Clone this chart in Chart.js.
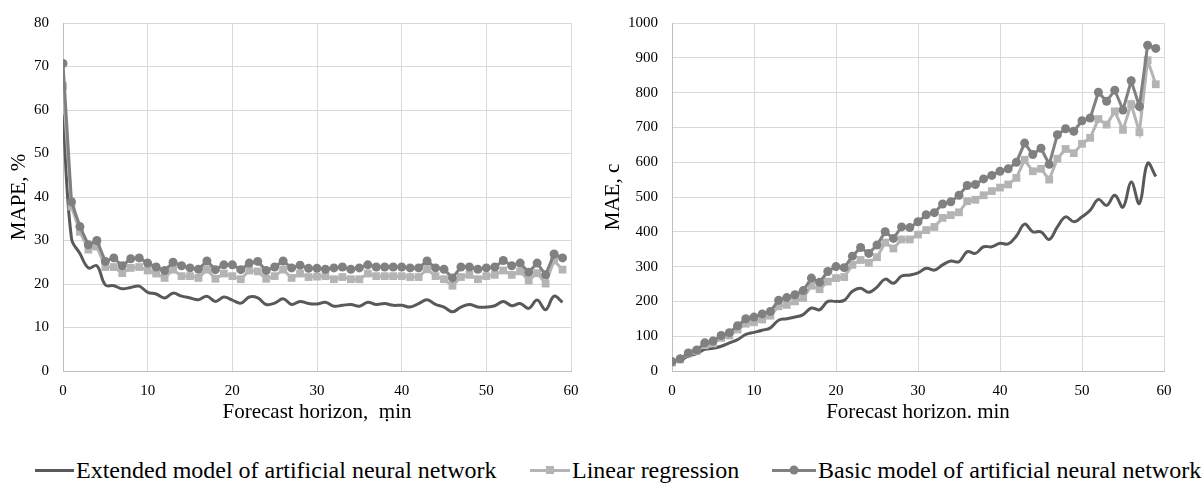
<!DOCTYPE html>
<html>
<head>
<meta charset="utf-8">
<script src="https://cdn.jsdelivr.net/npm/chart.js@4/dist/chart.umd.min.js"></script>
<style>
  body { margin: 0; background: #fff; width: 1204px; height: 491px; position: relative; overflow: hidden; font-family: "Liberation Serif", "Times New Roman", serif; }
  #wrap-mape { position: absolute; left: 0; top: 0; width: 600px; height: 430px; }
  #wrap-mae { position: absolute; left: 600px; top: 0; width: 604px; height: 430px; }
  .legend-item { position: absolute; top: 455px; height: 30px; display: flex; align-items: center; font-size: 24px; color: #000; white-space: nowrap; }
  .legend-line { position: relative; height: 3px; margin-right: 2px; }
  .legend-mark { position: absolute; top: 50%; left: 50%; transform: translate(-50%, -50%); }
</style>
</head>
<body>
<div id="wrap-mape"><canvas id="chart-mape"></canvas></div>
<div id="wrap-mae"><canvas id="chart-mae"></canvas></div>

<div class="legend-item" style="left:35px">
  <span class="legend-line" style="width:39px;background:#595959"></span>Extended model of artificial neural network
</div>
<div class="legend-item" style="left:530px">
  <span class="legend-line" style="width:40px;background:#b4b4b4"><span class="legend-mark" style="width:8px;height:8px;background:#b4b4b4"></span></span>Linear regression
</div>
<div class="legend-item" style="left:772px">
  <span class="legend-line" style="width:44px;background:#808080"><span class="legend-mark" style="width:9px;height:9px;border-radius:50%;background:#808080"></span></span>Basic model of artificial neural network
</div>

<script>
const horizon = [0, 1, 2, 3, 4, 5, 6, 7, 8, 9, 10, 11, 12, 13, 14, 15, 16, 17, 18, 19,
  20, 21, 22, 23, 24, 25, 26, 27, 28, 29, 30, 31, 32, 33, 34, 35, 36, 37, 38, 39,
  40, 41, 42, 43, 44, 45, 46, 47, 48, 49, 50, 51, 52, 53, 54, 55, 56, 57, 58, 59];

// MAPE, %
const mapeExtended = [59, 30.5, 27, 23.7, 24.2, 19.8, 19.6, 18.9, 19.2, 19.5,
  18.1, 17.7, 16.8, 17.9, 17.2, 16.8, 16.4, 17.2, 16, 17,
  16.3, 15.6, 17, 16.8, 15.3, 15.6, 16.6, 15.3, 16, 15.5,
  15.4, 15.8, 14.9, 15.1, 15.3, 14.9, 15.8, 15.3, 15.5, 15.1,
  15.1, 14.7, 15.5, 16.4, 15.3, 14.7, 13.6, 14.7, 15.3, 14.7,
  14.7, 15, 16, 15, 15.5, 14.4, 16.3, 14.1, 17.2, 15.8];
const mapeLinear = [65.5, 37.8, 32, 27.9, 28.6, 23.9, 23.9, 22.5, 23.7, 23.9,
  23.1, 22.4, 21.4, 23.3, 21.8, 21.8, 21.4, 23.3, 21.2, 22.4,
  21.8, 21.1, 23.1, 22.9, 21.2, 21.8, 23.3, 21.4, 22.4, 21.6,
  21.7, 21.8, 21.1, 21.6, 21.1, 21.1, 22.4, 21.8, 21.8, 21.8,
  21.8, 21.6, 21.6, 23.4, 21.8, 21.1, 19.6, 21.6, 22.1, 21.1,
  21.8, 22.1, 23.1, 22.1, 22.9, 20.8, 22.5, 20.1, 25.4, 23.3];
const mapeBasic = [70.7, 38.9, 33.2, 29, 30, 25.2, 26, 24.2, 25.8, 26,
  24.8, 23.9, 23.1, 25, 24.2, 23.7, 23.4, 25.3, 23.3, 24.4,
  24.4, 23.3, 24.8, 25.2, 23.1, 23.9, 25.3, 23.7, 24.3, 23.6,
  23.6, 23.4, 23.7, 23.9, 23.4, 23.7, 24.4, 23.9, 23.9, 23.9,
  23.9, 23.7, 23.7, 25.3, 23.7, 23.4, 21.4, 23.9, 23.9, 23.4,
  23.7, 23.9, 25.4, 24.2, 24.8, 22.7, 24.8, 22.1, 26.9, 26];

// MAE, c
const maeExtended = [24, 31, 43, 50, 62, 65, 71, 81, 90, 105,
  111, 117, 124, 146, 150, 155, 162, 181, 176, 200,
  200, 203, 229, 238, 226, 241, 264, 252, 273, 276,
  282, 295, 290, 305, 316, 314, 343, 338, 357, 357,
  367, 365, 388, 422, 400, 400, 378, 414, 443, 429,
  443, 462, 493, 476, 505, 471, 543, 481, 597, 559];
const maeLinear = [24, 33, 50, 57, 74, 79, 95, 102, 119, 136,
  140, 148, 159, 186, 190, 200, 210, 245, 235, 257,
  267, 270, 305, 319, 311, 327, 369, 352, 378, 378,
  392, 405, 414, 440, 448, 456, 488, 492, 505, 517,
  527, 536, 555, 607, 574, 581, 550, 610, 638, 626,
  653, 670, 724, 708, 746, 693, 767, 686, 893, 824];
const maeBasic = [27, 35, 52, 60, 81, 86, 102, 110, 130, 150,
  155, 164, 171, 203, 211, 219, 231, 267, 255, 286,
  300, 297, 330, 355, 338, 362, 400, 381, 414, 412,
  429, 449, 455, 480, 486, 505, 533, 536, 552, 562,
  574, 581, 600, 655, 622, 640, 594, 679, 696, 689,
  719, 727, 801, 775, 807, 750, 834, 760, 936, 927];

const FONT = "'Liberation Serif', 'Times New Roman', serif";
const GRID = "#d9d9d9";
const C_EXT = "#595959";
const C_LIN = "#b4b4b4";
const C_BAS = "#808080";

function points(vals) {
  return horizon.map((h, i) => ({ x: h, y: vals[i] }));
}

function makeDatasets(ext, lin, bas) {
  return [
    { label: "Basic model of artificial neural network", data: points(bas), borderColor: C_BAS, backgroundColor: C_BAS,
      borderWidth: 3, pointStyle: "circle", pointRadius: 4.5, pointBorderWidth: 0, order: 0 },
    { label: "Linear regression", data: points(lin), borderColor: C_LIN, backgroundColor: C_LIN,
      borderWidth: 3, pointStyle: "rect", pointRadius: 5.5, pointBorderWidth: 0, order: 1 },
    { label: "Extended model of artificial neural network", data: points(ext), borderColor: C_EXT, backgroundColor: C_EXT,
      borderWidth: 3, pointRadius: 0, tension: 0.4, order: 2 },
  ];
}

function makeChart(id, datasets, opts) {
  return new Chart(document.getElementById(id), {
    type: "line",
    data: { datasets },
    options: {
      responsive: true,
      maintainAspectRatio: false,
      animation: false,
      devicePixelRatio: 1,
      layout: { padding: { top: 22, right: opts.padRight, left: 0, bottom: 0 } },
      plugins: { legend: { display: false }, tooltip: { enabled: false } },
      scales: {
        x: {
          type: "linear", min: 0, max: 60,
          ticks: { stepSize: 10, color: "#000", font: { family: FONT, size: 15 }, padding: 11, maxRotation: 0 },
          grid: { color: GRID, drawTicks: false },
          border: { color: "#bfbfbf" },
          title: { display: true, text: opts.xTitle, color: "#000", font: { family: FONT, size: 21 }, padding: { top: 0, bottom: 5 } },
          afterFit: (s) => { s.height = 59; },
        },
        y: {
          min: 0, max: opts.yMax,
          ticks: { stepSize: opts.yStep, color: "#000", font: { family: FONT, size: 15 }, padding: 14,
            callback: (v) => String(v) },
          grid: { color: GRID, drawTicks: false },
          border: { color: "#bfbfbf" },
          title: { display: true, text: opts.yTitle, color: "#000", font: { family: FONT, size: 21 }, padding: { top: opts.yTitlePad, bottom: 0 } },
          afterFit: (s) => { s.width = opts.yWidth; },
        },
      },
    },
  });
}

makeChart("chart-mape", makeDatasets(mapeExtended, mapeLinear, mapeBasic), {
  xTitle: "Forecast horizon,  ṃin", yTitle: "MAPE, %", yMax: 80, yStep: 10,
  yWidth: 63, yTitlePad: 7, padRight: 29,
});
makeChart("chart-mae", makeDatasets(maeExtended, maeLinear, maeBasic), {
  xTitle: "Forecast horizon. min", yTitle: "MAE, c", yMax: 1000, yStep: 100,
  yWidth: 72, yTitlePad: 0.5, padRight: 40,
});
</script>
</body>
</html>
